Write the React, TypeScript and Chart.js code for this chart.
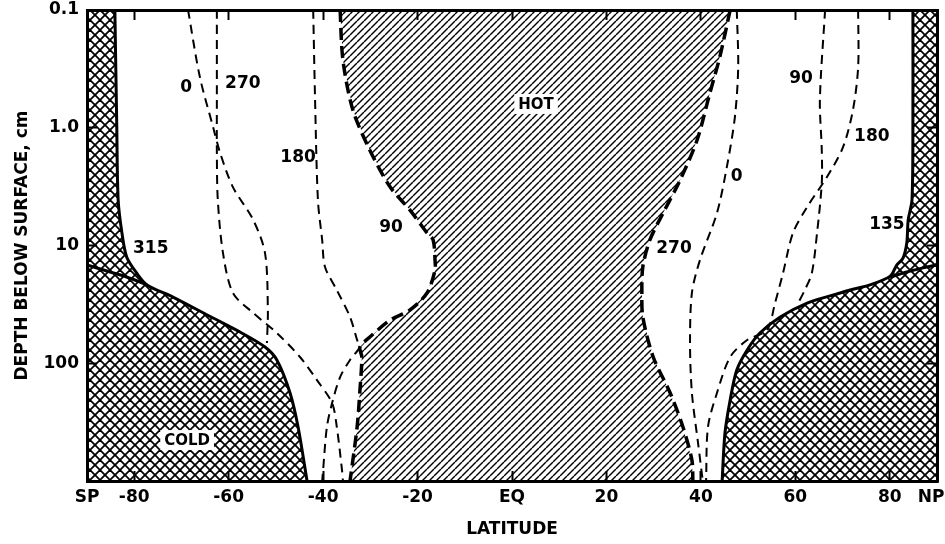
import React, { useEffect, useRef } from 'react';
import { Chart, registerables } from 'chart.js';

Chart.register(...registerables);

// ---- axes ----
const LAT_MIN = -90;
const LAT_MAX = 90;
const DEPTH_MIN = 0.1;
const DEPTH_MAX = 1000;
const latTicks = [-90, -80, -60, -40, -20, 0, 20, 40, 60, 80, 90];
const latTickLabels = ['SP', '-80', '-60', '-40', '-20', 'EQ', '20', '40', '60', '80', 'NP\u00a0\u00a0'];
const depthTicks = [0.1, 1, 10, 100, 1000];
const depthTickLabels = ['0.1', '1.0', '10', '100', ''];

// ---- region boundaries: [latitude, depth cm] ----
const leftColdEdge = [[-84.1, 0.1], [-83.7, 0.95], [-83.4, 4.11], [-82.6, 7.83], [-81.6, 12.5], [-79.5, 17.1], [-77.3, 21.6], [-71.8, 27.4], [-63.3, 41.3], [-57.6, 54.3], [-52.3, 72.8], [-49.8, 93.8], [-47.0, 179], [-45.3, 348], [-43.4, 1000]];
const leftColdInner = [[-90, 14.6], [-85.1, 16.8], [-81.6, 18.5], [-77.3, 21.6]];
const rightColdEdge = [[84.9, 0.1], [84.9, 0.95], [84.7, 4.11], [83.9, 6.07], [83.6, 9.52], [82.8, 12.8], [81.5, 14.6], [80.1, 18.2], [75.8, 21.6], [71.6, 23.9], [69.5, 25.3], [62.5, 30.8], [56.8, 40.5], [52.5, 55.4], [49.8, 77.1], [47.6, 114], [46.2, 205], [45.1, 391], [44.5, 1000]];
const rightColdInner = [[90, 14.6], [87.0, 15.5], [83.6, 16.8], [80.1, 18.6]];
const hotWest = [[-36.4, 0.1], [-35.8, 0.266], [-33.7, 0.706], [-30.1, 1.55], [-25.8, 3.19], [-21.6, 5.0], [-18.0, 7.83], [-16.7, 8.97], [-16.3, 13.3], [-16.3, 16.2], [-18.0, 25.3], [-21.6, 35.3], [-25.8, 43.0], [-30.1, 59.9], [-32.2, 72.8], [-31.8, 88.5], [-32.2, 169], [-32.8, 348], [-34.3, 1000]];
const hotEast = [[46.2, 0.1], [44.0, 0.251], [41.9, 0.507], [39.2, 1.27], [35.6, 2.78], [32.0, 5.3], [29.2, 8.97], [27.7, 15.2], [27.5, 25.3], [27.7, 40.5], [29.9, 88.5], [33.5, 179], [36.2, 348], [38.1, 664], [38.3, 1000]];

// ---- isotherm-phase contours (dashed) ----
const c0West = [[-68.6, 0.1], [-66.1, 0.371], [-63.3, 0.986], [-61.8, 1.64], [-59.1, 3.19], [-54.8, 6.07], [-52.3, 11.6], [-51.7, 35.3], [-51.9, 67.3]];
const c270West = [[-62.5, 0.1], [-62.5, 0.581], [-62.5, 1.64], [-62.3, 4.11], [-61.2, 11.6], [-59.1, 25.3], [-54.8, 37.4], [-49.8, 55.4], [-44.9, 88.5], [-41.3, 139], [-38.1, 218], [-37.1, 348], [-36.0, 807], [-35.8, 1000]];
const c180West = [[-42.1, 0.1], [-41.7, 0.581], [-41.1, 4.11], [-40.2, 8.97], [-39.6, 15.2], [-37.1, 23.9], [-34.3, 40.5], [-32.6, 67.3], [-32.2, 72.8], [-34.3, 93.8], [-36.4, 131], [-38.1, 218], [-39.2, 348], [-40.0, 807], [-40.2, 1000]];
const c0East = [[47.6, 0.1], [47.9, 0.305], [47.2, 0.811], [45.5, 2.15], [43.4, 5.3], [39.8, 13.3], [38.1, 25.3], [37.7, 67.3], [38.1, 179], [39.4, 476], [40.4, 1000]];
const c180East = [[73.3, 0.1], [73.3, 0.305], [72.2, 0.706], [70.1, 1.46], [66.7, 2.62], [62.5, 4.71], [59.5, 7.83], [57.4, 17.1], [55.7, 30.8], [54.0, 52.2], [49.8, 63.5], [46.2, 88.5], [43.4, 179], [41.5, 348], [41.1, 1000]];
const c90East = [[66.3, 0.1], [65.2, 0.581], [65.6, 1.55], [65.6, 2.95], [64.6, 7.83], [63.5, 17.1], [62.0, 23.9], [60.4, 32.0]];

// ---- labels ----
const labelTexts = ['0', '270', '180', '90', '315', 'HOT', 'COLD', '90', '180', '0', '270', '135'];
const labelLat = [-69.0, -57.0, -45.3, -25.6, -76.5, 5.1, -68.8, 61.2, 76.2, 47.6, 34.3, 79.4];
const labelDepth = [0.45, 0.417, 1.77, 6.97, 10.5, 0.628, 449, 0.378, 1.175, 2.57, 10.5, 6.56];
const labelBoxed = [false, false, false, false, false, true, true, false, false, false, false, false];

const FONT = '"DejaVu Sans", sans-serif';

function makeCross(): CanvasPattern {
  const s = 10;
  const c = document.createElement('canvas');
  c.width = s; c.height = s;
  const g = c.getContext('2d')!;
  g.fillStyle = '#fff'; g.fillRect(0, 0, s, s);
  g.strokeStyle = '#000'; g.lineWidth = 1.8;
  for (const o of [-s, 0, s]) {
    g.beginPath(); g.moveTo(o, 0); g.lineTo(o + s, s); g.stroke();
    g.beginPath(); g.moveTo(o, s); g.lineTo(o + s, 0); g.stroke();
  }
  return g.createPattern(c, 'repeat')!;
}

function makeHatch(): CanvasPattern {
  const s = 7;
  const c = document.createElement('canvas');
  c.width = s; c.height = s;
  const g = c.getContext('2d')!;
  g.fillStyle = '#fff'; g.fillRect(0, 0, s, s);
  g.strokeStyle = '#000'; g.lineWidth = 1.4;
  for (const o of [-s, 0, s]) {
    g.beginPath(); g.moveTo(o, s); g.lineTo(o + s, 0); g.stroke();
  }
  return g.createPattern(c, 'repeat')!;
}

const pts = (arr: number[][]) => arr.map(([x, y]) => ({ x, y }));

const labelPlugin = {
  id: 'contourLabels',
  afterDatasetsDraw(chart: any) {
    const { ctx, scales } = chart;
    const xs = scales.x, ys = scales.y;
    ctx.save();
    ctx.textAlign = 'center';
    ctx.textBaseline = 'middle';
    labelTexts.forEach((t, i) => {
      const px = xs.getPixelForValue(labelLat[i]);
      const py = ys.getPixelForValue(labelDepth[i]);
      ctx.font = `bold ${labelBoxed[i] ? 15 : 17}px ${FONT}`;
      if (labelBoxed[i]) {
        const w = ctx.measureText(t).width;
        ctx.fillStyle = '#fff';
        ctx.fillRect(px - w / 2 - 4, py - 10, w + 8, 20);
      }
      ctx.fillStyle = '#000';
      ctx.fillText(t, px, py + 1);
    });
    ctx.restore();
  },
};

const fixBox = (w: number | null, h: number | null) => (s: any) => {
  if (w !== null) s.width = w;
  if (h !== null) s.height = h;
  s.paddingTop = 0; s.paddingBottom = 0; s.paddingLeft = 0; s.paddingRight = 0;
};

export default function App() {
  const ref = useRef<HTMLCanvasElement>(null);
  useEffect(() => {
    const cross = makeCross();
    const hatch = makeHatch();
    const fillDs = (data: number[][], bg: CanvasPattern) => ({
      data: pts(data), showLine: true, fill: 'shape', backgroundColor: bg,
      borderWidth: 0, borderColor: 'rgba(0,0,0,0)', pointRadius: 0, pointHoverRadius: 0, tension: 0, order: 3,
    });
    const solid = (data: number[][]) => ({
      data: pts(data), showLine: true, fill: false, borderColor: '#000', borderWidth: 3,
      pointRadius: 0, pointHoverRadius: 0, tension: 0.3, order: 1,
    });
    const thickDash = (data: number[][]) => ({
      data: pts(data), showLine: true, fill: false, borderColor: '#000', borderWidth: 3.5,
      borderDash: [12, 6], pointRadius: 0, pointHoverRadius: 0, tension: 0.3, order: 1,
    });
    const thinDash = (data: number[][]) => ({
      data: pts(data), showLine: true, fill: false, borderColor: '#000', borderWidth: 2,
      borderDash: [9, 6], pointRadius: 0, pointHoverRadius: 0, tension: 0.3, order: 1,
    });

    const latAfterBuild = (s: any) => { s.ticks = latTicks.map((v) => ({ value: v })); };
    const depthAfterBuild = (s: any) => { s.ticks = depthTicks.map((v) => ({ value: v })); };
    const tickFont = { family: FONT, size: 17, weight: 'bold' as const };
    const grid = { drawOnChartArea: false, tickLength: -10, tickWidth: 2, tickColor: '#000', z: 1 };
    const border = { display: true, width: 3, color: '#000', z: 1 };

    const chart = new Chart(ref.current!, {
      type: 'scatter',
      data: {
        datasets: [
          fillDs([[LAT_MIN, DEPTH_MIN], ...leftColdEdge, [LAT_MIN, DEPTH_MAX]], cross),
          fillDs([[LAT_MAX, DEPTH_MIN], ...rightColdEdge, [LAT_MAX, DEPTH_MAX]], cross),
          fillDs([...hotWest, ...hotEast.slice().reverse()], hatch),
          solid(leftColdEdge),
          solid(leftColdInner),
          solid(rightColdEdge),
          solid(rightColdInner),
          thickDash(hotWest),
          thickDash(hotEast),
          thinDash(c0West),
          thinDash(c270West),
          thinDash(c180West),
          thinDash(c0East),
          thinDash(c180East),
          thinDash(c90East),
        ] as any,
      },
      options: {
        responsive: false,
        animation: false,
        events: [],
        layout: { padding: 0, autoPadding: false },
        plugins: { legend: { display: false }, tooltip: { enabled: false } },
        scales: {
          x: {
            type: 'linear', position: 'bottom', min: LAT_MIN, max: LAT_MAX,
            afterBuildTicks: latAfterBuild,
            afterFit: fixBox(null, 63),
            ticks: {
              autoSkip: false, maxRotation: 0, padding: 16, color: '#000', font: tickFont,
              callback: (v: any) => { const i = latTicks.indexOf(Number(v)); return i >= 0 ? latTickLabels[i] : ''; },
            },
            grid, border,
            title: { display: true, text: 'LATITUDE', color: '#000', font: tickFont, padding: { top: 0, bottom: 4 } },
          },
          xTop: {
            type: 'linear', position: 'top', min: LAT_MIN, max: LAT_MAX,
            afterBuildTicks: latAfterBuild,
            afterFit: fixBox(null, 10),
            ticks: { display: false }, grid, border,
          },
          y: {
            type: 'logarithmic', position: 'left', min: DEPTH_MIN, max: DEPTH_MAX, reverse: true,
            afterBuildTicks: depthAfterBuild,
            afterFit: fixBox(87, null),
            ticks: {
              autoSkip: false, padding: 18, color: '#000', font: tickFont,
              callback: (v: any) => { const i = depthTicks.indexOf(Number(v)); return i >= 0 ? depthTickLabels[i] : ''; },
            },
            grid, border,
            title: { display: true, text: 'DEPTH BELOW SURFACE, cm', color: '#000', font: tickFont, padding: { top: 12, bottom: 0 } },
          },
          yRight: {
            type: 'logarithmic', position: 'right', min: DEPTH_MIN, max: DEPTH_MAX, reverse: true,
            afterBuildTicks: depthAfterBuild,
            afterFit: fixBox(8, null),
            ticks: { display: false }, grid, border,
          },
        },
      } as any,
      plugins: [labelPlugin],
    });
    return () => chart.destroy();
  }, []);
  return (
    <canvas
      ref={ref}
      width={945}
      height={544}
      style={{ position: 'fixed', left: 0, top: 0, display: 'block', background: '#fff' }}
    />
  );
}
